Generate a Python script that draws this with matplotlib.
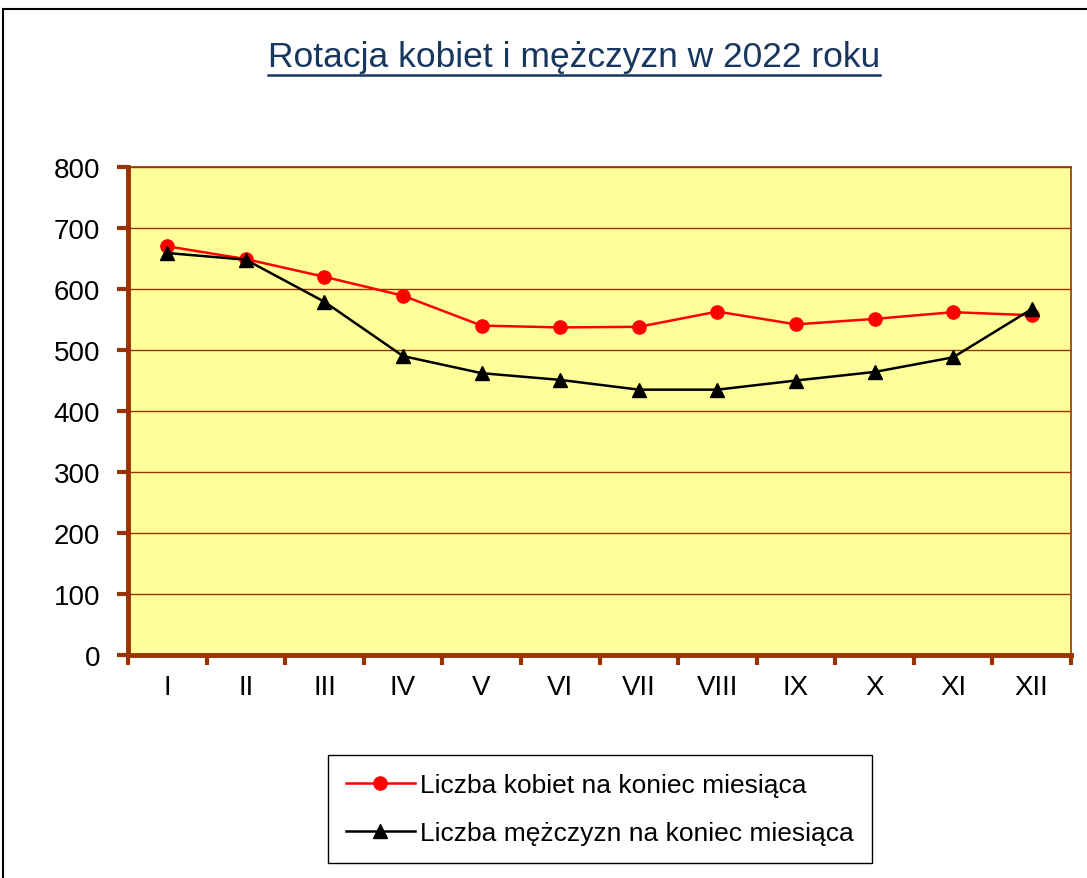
import numpy as np
import matplotlib
matplotlib.use('Agg')
import matplotlib.pyplot as plt
from matplotlib.lines import Line2D

plt.rcParams['font.family'] = ['Liberation Sans', 'DejaVu Sans']

months = ['I', 'II', 'III', 'IV', 'V', 'VI', 'VII', 'VIII', 'IX', 'X', 'XI', 'XII']
kobiety = [670, 649, 620, 589, 540, 537, 538, 563, 542, 551, 562, 557]
mezczyzni = [659, 648, 579, 490, 462, 451, 435, 435, 450, 464, 488, 567]

title = 'Rotacja kobiet i mężczyzn w 2022 roku'
label_k = 'Liczba kobiet na koniec miesiąca'
label_m = 'Liczba mężczyzn na koniec miesiąca'

brown = '#993300'
W, H = 1087, 879

fig = plt.figure(figsize=(W / 100, H / 100), dpi=100)
ax = fig.add_axes([128 / W, 1 - 656 / H, (1071 - 128) / W, (656 - 168) / H])
ax.set_facecolor('#FFFF99')

x = np.arange(len(months))
ax.plot(x, kobiety, color='#FF0000', lw=1.8, marker='o', ms=9.5, label=label_k, zorder=3)
ax.plot(x, mezczyzni, color='black', lw=1.8, marker='^', ms=10, label=label_m, zorder=4)

ax.set_xlim(-0.5, len(months) - 0.5)
ax.set_ylim(0, 800)
ax.set_yticks(range(0, 801, 100))
ax.yaxis.grid(True, color=brown, lw=1)
ax.set_axisbelow(True)

ax.set_xticks(x)
ax.set_xticklabels(months)
ax.set_xticks(np.arange(-0.5, len(months), 1), minor=True)
ax.tick_params(axis='x', which='major', length=0, pad=14, labelsize=20)
ax.tick_params(axis='x', which='minor', length=7, width=3, color=brown, direction='out')
ax.tick_params(axis='y', length=8, width=3, color=brown, direction='out', pad=12, labelsize=20)

for side in ['left', 'bottom']:
    ax.spines[side].set_color(brown)
    ax.spines[side].set_linewidth(3.5)
for side in ['top', 'right']:
    ax.spines[side].set_color(brown)
    ax.spines[side].set_linewidth(1.2)

# title with underline
t = fig.text(574 / W, 1 - 58 / H, title, ha='center', va='center', fontsize=25.5, color='#17375E')
fig.canvas.draw()
bb = t.get_window_extent().transformed(fig.transFigure.inverted())
fig.add_artist(Line2D([bb.x0, bb.x1], [bb.y0 - 0.002, bb.y0 - 0.002], color='#17375E', lw=1.8,
                      transform=fig.transFigure))

# outer frame (left and top)
fig.add_artist(Line2D([3 / W, 3 / W], [0, 1 - 10 / H], color='black', lw=1.5, transform=fig.transFigure))
fig.add_artist(Line2D([3 / W, 1], [1 - 10 / H, 1 - 10 / H], color='black', lw=1.5, transform=fig.transFigure))

leg = fig.legend(loc='center', bbox_to_anchor=(600 / W, 1 - 810 / H), fontsize=19, frameon=True,
                 fancybox=False, edgecolor='black', framealpha=1, labelspacing=0.9,
                 handlelength=2.6, handletextpad=0.2, borderpad=0.7, borderaxespad=0)
leg.get_frame().set_linewidth(1)

fig.savefig('out.png', dpi=100, facecolor='white')
